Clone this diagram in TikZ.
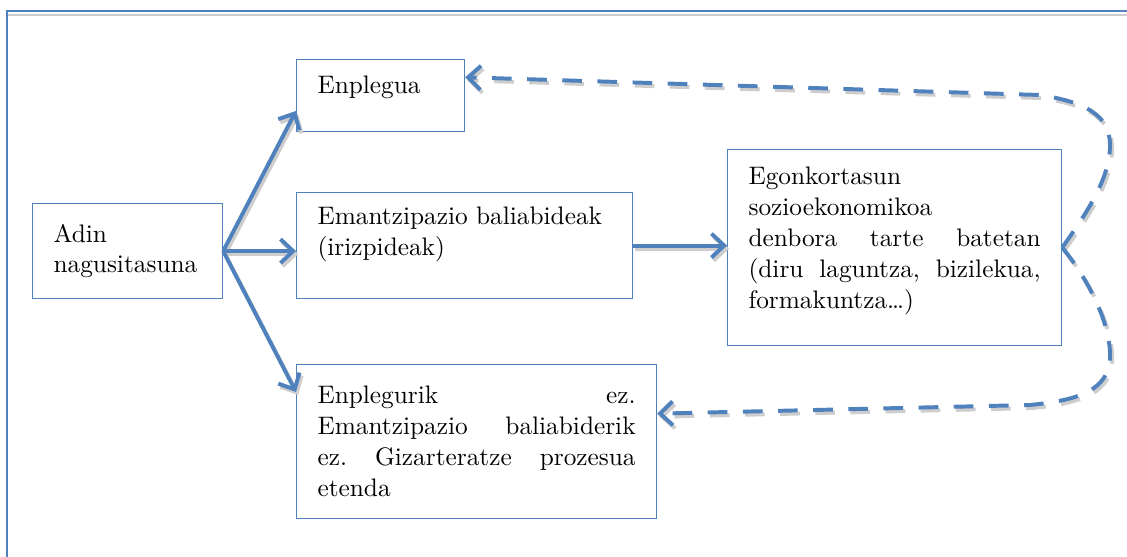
\documentclass[tikz,border=0pt]{standalone}
\usepackage{fontspec}
\setmainfont{lmroman10-regular.otf}
\usetikzlibrary{arrows.meta,calc}

\definecolor{b}{RGB}{79,129,189}
\definecolor{s}{RGB}{205,205,205}
\newcommand{\lift}[1]{\rule[-#1]{0pt}{0pt}}

\begin{document}
\begin{tikzpicture}[
        x=0.025cm, y=-0.025cm,
        box/.style={draw=b, thick, anchor=north west, inner xsep=0.525cm, inner ysep=2pt, align=left, font=\fontsize{18}{22}\selectfont},
        tip/.style={-{Straight Barb[length=9pt,width=17pt]}},
        shade/.style={draw=s, line width=2.8pt, tip, transform canvas={shift={(1.5pt,-2.2pt)}}},
        link/.style={draw=b, line width=2.8pt, tip, preaction={shade}},
        back/.style={draw=b, line width=2.8pt, tip, dash pattern=on 14pt off 11pt,
            preaction={shade, dash pattern=on 14pt off 11pt}},
    ]
    \useasboundingbox (0,0) rectangle (1127,557);

    % frame
    \draw[s, line width=1pt] (8,15) -- (1127,15);
    \draw[b, line width=1.2pt] (7,557) -- (7,11) -- (1127,11);

    \node[box, text width=3.7cm, minimum height=2.375cm] (adin) at (32,203) {Adin\\ nagusitasuna};
    \node[box, text width=3.15cm, minimum height=1.8cm] (enplegua) at (296,59) {Enplegua\lift{15pt}};
    \node[box, text width=7.35cm, minimum height=2.65cm] (emanc) at (296,192) {Emantzipazio baliabideak\\ (irizpideak)\lift{20pt}};
    \node[box, text width=7.3cm, minimum height=4.9cm] (egon) at (727,149)
        {Egonkortasun\\ sozioekonomikoa\\ denbora\hfill tarte\hfill batetan\\ (diru\hfill laguntza,\hfill bizilekua,\\ formakuntza…)\lift{14pt}};
    \node[box, text width=7.95cm, minimum height=3.85cm] (nogo) at (296,364)
        {Enplegurik\hfill ez.\\ Emantzipazio\hfill baliabiderik\\ ez.\hfill Gizarteratze\hfill prozesua\\ etenda};

    \draw[link] (adin.east) -- ($(enplegua.north west)!0.71!(enplegua.south west)$);
    \draw[link] (adin.east) -- (adin.east -| emanc.west);
    \draw[link] (adin.east) -- ($(nogo.north west)!0.18!(nogo.south west)$);
    \draw[link] (emanc.east) -- (emanc.east -| egon.west);

    % back loops
    \draw[back] (egon.east) .. controls (1085,215) and (1110,180) .. (1110,145)
        .. controls (1110,115) and (1085,102) .. (1040,95)
        -- ($(enplegua.north east)!0.25!(enplegua.south east)$);
    \draw[back] (egon.east) .. controls (1085,275) and (1110,320) .. (1110,355)
        .. controls (1110,390) and (1080,400) .. (1030,405)
        -- ($(nogo.north east)!0.32!(nogo.south east)$);
\end{tikzpicture}
\end{document}
